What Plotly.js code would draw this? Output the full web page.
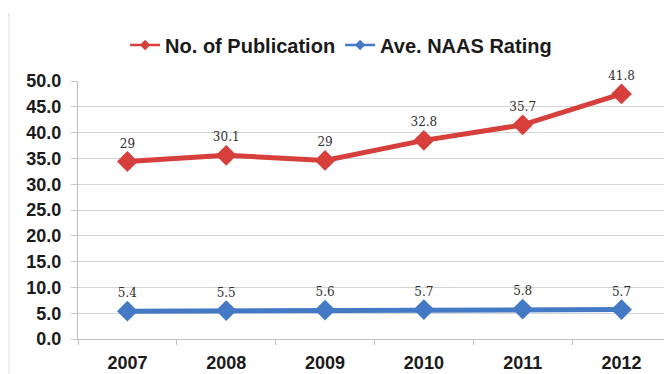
<!DOCTYPE html>
<html>
<head>
<meta charset="utf-8">
<script src="https://cdn.plot.ly/plotly-3.0.1.min.js"></script>
<style>
  html, body { margin: 0; padding: 0; background: #ffffff; }
  #chart { width: 664px; height: 374px; }
</style>
</head>
<body>
<div id="chart"></div>
<script>
// Stacked line chart (Excel "stacked line"): the red line sits on top of the blue one.
const years = ["2007", "2008", "2009", "2010", "2011", "2012"];
const publications = [29, 30.1, 29, 32.8, 35.7, 41.8];
const naasRating = [5.4, 5.5, 5.6, 5.7, 5.8, 5.7];
const yTicks = [0, 5, 10, 15, 20, 25, 30, 35, 40, 45, 50];

const redColor = "#d63f3c";
const blueColor = "#4479c6";
const labelFont = { family: "DejaVu Serif", size: 12, color: "#2e2e2e" };

const traceNaas = {
  x: years,
  y: naasRating,
  name: "Ave. NAAS Rating",
  type: "scatter",
  mode: "lines+markers+text",
  stackgroup: "one",
  fill: "none",
  showlegend: false,
  cliponaxis: false,
  line: { color: blueColor, width: 5 },
  marker: { symbol: "diamond", size: 16, color: blueColor },
  text: naasRating.map(String),
  textposition: "top center",
  textfont: labelFont,
  hoverinfo: "skip"
};

const tracePub = {
  x: years,
  y: publications,
  name: "No. of Publication",
  type: "scatter",
  mode: "lines+markers+text",
  stackgroup: "one",
  fill: "none",
  showlegend: false,
  cliponaxis: false,
  line: { color: redColor, width: 5 },
  marker: { symbol: "diamond", size: 16, color: redColor },
  text: publications.map(String),
  textposition: "top center",
  textfont: labelFont,
  hoverinfo: "skip"
};

// Legend entries (thin line + small diamond, as in the reference legend)
const legendPub = {
  x: [null], y: [null], type: "scatter", mode: "lines+markers",
  name: "No. of Publication", showlegend: true,
  line: { color: redColor, width: 2.5 },
  marker: { symbol: "diamond", size: 8, color: redColor },
  hoverinfo: "skip"
};
const legendNaas = {
  x: [null], y: [null], type: "scatter", mode: "lines+markers",
  name: "Ave. NAAS Rating", showlegend: true,
  line: { color: blueColor, width: 2.5 },
  marker: { symbol: "diamond", size: 8, color: blueColor },
  hoverinfo: "skip"
};

const plotH = 258;
const layout = {
  width: 664,
  height: 374,
  margin: { l: 78, r: 0, t: 81, b: 35, pad: 0 },
  paper_bgcolor: "#ffffff",
  plot_bgcolor: "#ffffff",
  showlegend: true,
  legend: {
    orientation: "h",
    x: 0.449, xanchor: "center",
    y: 1 + 36 / plotH, yanchor: "middle",
    font: { family: "Liberation Sans", size: 20, color: "#1a1a1a", weight: "bold" },
    traceorder: "normal",
    bgcolor: "rgba(0,0,0,0)"
  },
  xaxis: {
    type: "category",
    range: [-0.5, 5.43],
    tickson: "boundaries",
    ticks: "outside",
    ticklen: 5,
    tickcolor: "#bfbfbf",
    showgrid: false,
    showline: true,
    linecolor: "#bfbfbf",
    linewidth: 1,
    zeroline: false,
    ticklabelstandoff: 7,
    tickfont: { family: "Liberation Sans", size: 18, color: "#1a1a1a", weight: "bold" },
    fixedrange: true
  },
  yaxis: {
    range: [0, 50],
    tickvals: yTicks,
    tickformat: ".1f",
    ticks: "outside",
    ticklen: 6,
    tickcolor: "#c8c8c8",
    showgrid: true,
    gridcolor: "#d4d4d4",
    gridwidth: 1,
    showline: true,
    linecolor: "#bfbfbf",
    zeroline: false,
    ticklabelstandoff: 6,
    tickfont: { family: "Liberation Sans", size: 18, color: "#1a1a1a", weight: "bold" },
    fixedrange: true
  },
  shapes: [{
    type: "line", xref: "paper", yref: "paper",
    x0: (9 - 78) / 586, x1: (9 - 78) / 586,
    y0: -35 / plotH, y1: 1 + 68 / plotH,
    line: { color: "#dcdcdc", width: 1 }
  }]
};

Plotly.newPlot("chart", [traceNaas, tracePub, legendPub, legendNaas], layout, { displayModeBar: false, staticPlot: true });
</script>
</body>
</html>
